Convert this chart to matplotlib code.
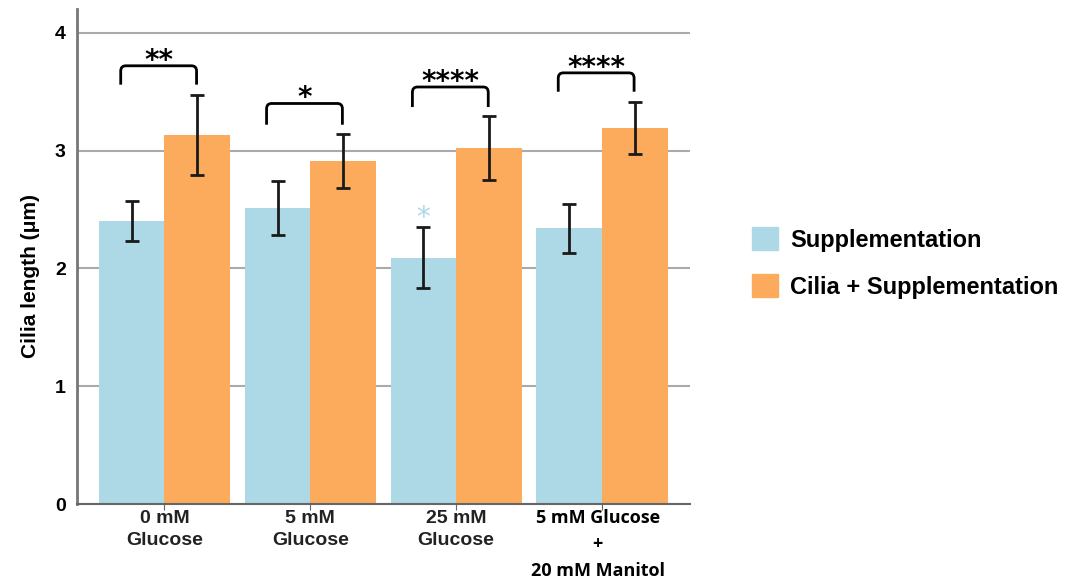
import numpy as np
import matplotlib.pyplot as plt
from matplotlib.patches import Patch, PathPatch
from matplotlib.path import Path

groups = ['0 mM\nGlucose', '5 mM\nGlucose', '25 mM\nGlucose', '5 mM Glucose\n+\n20 mM Manitol']
supp = [2.40, 2.51, 2.09, 2.34]
supp_err = [0.17, 0.23, 0.26, 0.21]
cilia = [3.13, 2.91, 3.02, 3.19]
cilia_err = [0.34, 0.23, 0.27, 0.22]
stars = ['**', '*', '****', '****']
bracket_top = [3.72, 3.40, 3.54, 3.66]
bracket_leg = [0.16, 0.18, 0.17, 0.16]

blue = '#add8e6'
orange = '#fcaa5c'

plt.rcParams['font.family'] = ['Liberation Sans', 'DejaVu Sans']
fig = plt.figure(figsize=(10.69, 5.78), dpi=100)
ax = fig.add_axes([0.072, 0.128, 0.573, 0.856])

x = np.arange(len(groups))
w = 0.45
ax.bar(x - w / 2, supp, w, color=blue, zorder=2)
ax.bar(x + w / 2, cilia, w, color=orange, zorder=2)
ax.errorbar(x - w / 2, supp, yerr=supp_err, fmt='none', ecolor='#1a1a1a',
            elinewidth=2, capsize=5, capthick=2, zorder=3)
ax.errorbar(x + w / 2, cilia, yerr=cilia_err, fmt='none', ecolor='#1a1a1a',
            elinewidth=2, capsize=5, capthick=2, zorder=3)

# significance brackets with rounded corners
rx, ry = 0.035, 0.045
for i in range(len(groups)):
    x0, x1 = x[i] - 0.30, x[i] + 0.22
    top = bracket_top[i]
    bot = top - bracket_leg[i]
    verts = [(x0, bot), (x0, top - ry), (x0, top), (x0 + rx, top),
             (x1 - rx, top), (x1, top), (x1, top - ry), (x1, bot)]
    codes = [Path.MOVETO, Path.LINETO, Path.CURVE3, Path.CURVE3,
             Path.LINETO, Path.CURVE3, Path.CURVE3, Path.LINETO]
    ax.add_patch(PathPatch(Path(verts, codes), fill=False, edgecolor='black',
                           lw=2, zorder=4))
    ax.text((x0 + x1) / 2, top - 0.025, stars[i], ha='center', va='baseline',
            fontsize=20, fontweight='bold', family='DejaVu Sans', color='black')

# light-blue star over 25 mM supplementation
ax.text(x[2] - w / 2, 2.36, '*', ha='center', va='baseline', fontsize=20,
        family='DejaVu Sans', color=blue)

ax.set_xlim(-0.6, 3.6)
ax.set_ylim(0, 4.2)
ax.set_yticks([0, 1, 2, 3, 4])
ax.set_yticklabels(['0', '1', '2', '3', '4'], fontsize=14, fontweight='bold')
ax.set_xticks(x)
ax.set_xticklabels(['', '', '', ''])
for i, lab in enumerate(groups[:3]):
    ax.text(x[i], -0.05, lab, ha='center', va='top', fontsize=14,
            fontweight='bold', color='#222222', linespacing=1.4)
ax.text(x[3] - 0.03, -0.04, groups[3], ha='center', va='top', fontsize=13,
        fontweight='bold', family=['Open Sans', 'DejaVu Sans'],
        linespacing=1.6)

ax.set_ylabel('Cilia length (μm)', fontsize=15, fontweight='bold')
ax.yaxis.set_label_coords(-0.06, 0.46)
ax.yaxis.grid(True, color='#aaaaaa', lw=1.5, zorder=0)
ax.set_axisbelow(True)
for s in ['top', 'right']:
    ax.spines[s].set_visible(False)
ax.spines['left'].set_color('#777777')
ax.spines['left'].set_linewidth(2)
ax.spines['bottom'].set_color('#666666')
ax.spines['bottom'].set_linewidth(1.5)
ax.tick_params(axis='y', length=0, pad=8)
ax.tick_params(axis='x', length=4, color='#666666')

handles = [Patch(color=blue, label='Supplementation'),
           Patch(color=orange, label='Cilia + Supplementation')]
fig.legend(handles=handles, loc='center left', bbox_to_anchor=(0.684, 0.545),
           frameon=False, prop={'size': 17, 'weight': 'bold'},
           handlelength=1.1, handleheight=1.1, labelspacing=0.95,
           handletextpad=0.5)

fig.savefig('out.png', dpi=100)
